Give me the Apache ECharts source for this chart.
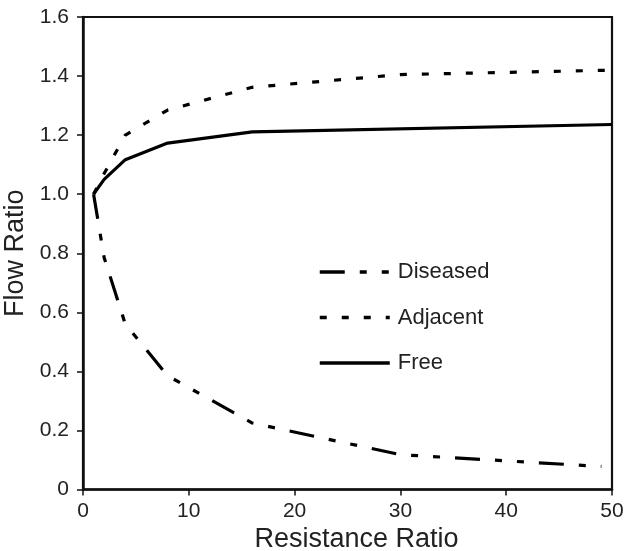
<!DOCTYPE html>
<html><head><meta charset="utf-8">
<script src="https://cdn.jsdelivr.net/npm/echarts@6/dist/echarts.min.js"></script>
<style>html,body{margin:0;padding:0;background:#fff}#c{width:627px;height:551px}</style>
</head><body><div id="c"></div>
<script>
const xDiseased = [1, 2, 4, 8, 16, 30, 49];
const yDiseased = [1.0, 0.785, 0.56, 0.385, 0.225, 0.118, 0.078];
const xAdjacent = [1, 2, 4, 8, 16, 30, 50];
const yAdjacent = [1.0, 1.07, 1.2, 1.285, 1.362, 1.405, 1.42];
const xFree = [1, 2, 4, 8, 16, 50];
const yFree = [1.0, 1.05, 1.117, 1.173, 1.211, 1.236];
const seriesNames = ['Diseased', 'Adjacent', 'Free'];
const xTitle = 'Resistance Ratio';
const yTitle = 'Flow Ratio';

const pairs = (xs, ys) => xs.map((x, i) => [x, ys[i]]);
const font = 'Liberation Sans, Arial, sans-serif';
const chart = echarts.init(document.getElementById('c'), null, {renderer: 'canvas'});
const mk = (name, xs, ys, dash) => ({
  name, type: 'line', data: pairs(xs, ys), symbol: 'none', smooth: false,
  lineStyle: {color: '#000', width: 3.2, type: dash}, itemStyle: {color: '#000'}
});
chart.setOption({
  animation: false,
  grid: {left: 83, right: 15, top: 17, bottom: 61.5, show: true, borderColor: '#111', borderWidth: 2.2,
         containLabel: false, outerBoundsMode: 'none'},
  legend: {
    orient: 'vertical', left: 313, top: 256, itemWidth: 70, itemHeight: 22, itemGap: 23.5,
    data: seriesNames, itemStyle: {opacity: 0}, lineStyle: {width: 3.5},
    textStyle: {fontFamily: font, fontSize: 22, color: '#222', padding: [0, 0, 0, 3]}
  },
  xAxis: {
    type: 'value', min: 0, max: 50, interval: 10,
    name: xTitle, nameLocation: 'middle', nameGap: 30,
    nameTextStyle: {fontFamily: font, fontSize: 27, color: '#222', padding: [0, 0, 0, 18]},
    axisLine: {lineStyle: {color: '#111', width: 2.5}},
    axisTick: {show: true, inside: false, length: 6, lineStyle: {color: '#111', width: 1.5}},
    axisLabel: {fontFamily: font, fontSize: 21, color: '#222', margin: 11},
    splitLine: {show: false}
  },
  yAxis: {
    type: 'value', min: 0, max: 1.6, interval: 0.2,
    name: yTitle, nameLocation: 'middle', nameGap: 52,
    nameTextStyle: {fontFamily: font, fontSize: 27, color: '#222'},
    axisLine: {show: true, lineStyle: {color: '#111', width: 2.5}},
    axisTick: {show: true, inside: false, length: 6, lineStyle: {color: '#111', width: 1.5}},
    axisLabel: {fontFamily: font, fontSize: 21, color: '#222', margin: 14,
                formatter: v => v === 0 ? '0' : v.toFixed(1)},
    splitLine: {show: false}
  },
  series: [
    mk(seriesNames[0], xDiseased, yDiseased, [25, 15, 7, 15, 7, 15]),
    mk(seriesNames[1], xAdjacent, yAdjacent, [7, 15]),
    mk(seriesNames[2], xFree, yFree, 'solid')
  ]
});
</script></body></html>
